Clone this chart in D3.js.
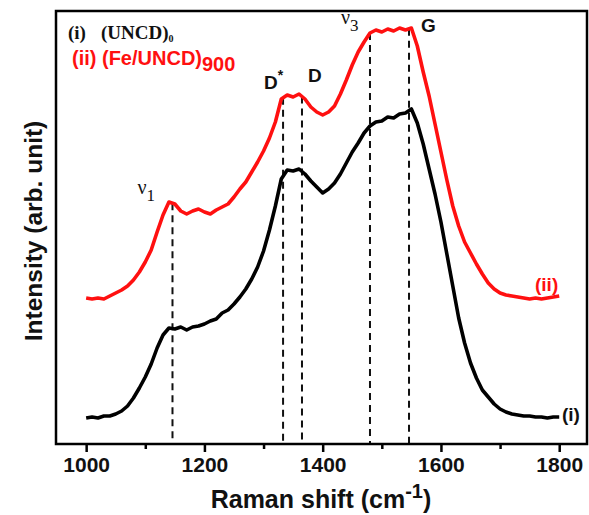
<!DOCTYPE html>
<html>
<head>
<meta charset="utf-8">
<script src="https://cdn.jsdelivr.net/npm/d3@7"></script>
<style>
  html, body { margin: 0; padding: 0; background: #fff; }
  svg { display: block; }
  .sans { font-family: "Liberation Sans", Arial, sans-serif; font-weight: bold; }
  .serif { font-family: "Liberation Serif", "Times New Roman", serif; }
</style>
</head>
<body>
<svg id="chart" width="589" height="515"></svg>
<script>
// Raman shift grid (cm^-1), one reading every 10 cm^-1
const shifts = d3.range(1000, 1801, 10);

// (i) (UNCD)0 spectrum, arbitrary intensity units
const uncd0 = [
  26, 27, 26, 28, 28, 30, 33, 38, 46, 56,
  67, 80, 96, 109, 116, 115, 117, 114, 117, 118,
  120, 123, 125, 131, 134, 140, 147, 155, 165, 177,
  193, 214, 238, 265, 274, 273, 275, 270, 263, 257,
  251, 255, 261, 270, 281, 292, 301, 311, 318, 322,
  323, 327, 326, 330, 331, 335, 321, 300, 275, 250,
  222, 190, 158, 126, 101, 81, 66, 54, 47, 40,
  35, 32, 30, 29, 28, 28, 27, 27, 26, 27, 27
];

// (ii) (Fe/UNCD)900 spectrum, offset upward, arbitrary intensity units
const feUncd900 = [
  146, 145, 146, 145, 148, 151, 154, 158, 164, 172,
  182, 194, 212, 229, 242, 240, 233, 230, 233, 235,
  232, 230, 234, 237, 240, 247, 255, 262, 272, 282,
  293, 306, 322, 345, 349, 347, 350, 345, 337, 332,
  329, 332, 338, 350, 364, 379, 392, 402, 411, 414,
  412, 415, 413, 416, 414, 416, 398, 372, 348, 320,
  292, 264, 238, 218, 202, 191, 180, 170, 161, 155,
  151, 149, 148, 147, 146, 145, 146, 145, 146, 147, 148
];

// Band positions marked with dashed guides (cm^-1)
const bandNames = ["ν1", "D*", "D", "ν3", "G"];
const bandShifts = [1146, 1333, 1365, 1480, 1546];

// Axis ticks
const tickValues = d3.range(1000, 1801, 100);
const labelledTicks = [1000, 1200, 1400, 1600, 1800];

const svg = d3.select("#chart");
const plot = { left: 56, right: 587, top: 11, bottom: 444 };

const x = d3.scaleLinear().domain([949, 1847]).range([plot.left, plot.right]);
const y = d3.scaleLinear().domain([0, 433]).range([plot.bottom, plot.top]);

const line = d3.line()
  .x(d => x(d[0]))
  .y(d => y(d[1]));

// dashed band guides, from the upper spectrum down to the axis
const redAt = w => {
  const i = d3.bisectLeft(shifts, w);
  const i0 = Math.max(0, i - 1), i1 = Math.min(shifts.length - 1, i);
  if (i0 === i1) return feUncd900[i0];
  const t = (w - shifts[i0]) / (shifts[i1] - shifts[i0]);
  return feUncd900[i0] + t * (feUncd900[i1] - feUncd900[i0]);
};
svg.append("g").selectAll("line")
  .data(bandShifts)
  .join("line")
  .attr("x1", d => x(d)).attr("x2", d => x(d))
  .attr("y1", d => y(redAt(d)))
  .attr("y2", y(0))
  .attr("stroke", "#111")
  .attr("stroke-width", 2)
  .attr("stroke-dasharray", "7,5");

// spectra
svg.append("path")
  .datum(shifts.map((s, i) => [s, feUncd900[i]]))
  .attr("d", line)
  .attr("fill", "none")
  .attr("stroke", "#ff1010")
  .attr("stroke-width", 3.6)
  .attr("stroke-linejoin", "round");

svg.append("path")
  .datum(shifts.map((s, i) => [s, uncd0[i]]))
  .attr("d", line)
  .attr("fill", "none")
  .attr("stroke", "#000")
  .attr("stroke-width", 3.6)
  .attr("stroke-linejoin", "round");

// frame
svg.append("rect")
  .attr("x", plot.left).attr("y", plot.top)
  .attr("width", plot.right - plot.left)
  .attr("height", plot.bottom - plot.top)
  .attr("fill", "none")
  .attr("stroke", "#000")
  .attr("stroke-width", 2.5);

// bottom axis
const xAxis = d3.axisBottom(x)
  .tickValues(tickValues)
  .tickFormat(d => labelledTicks.includes(d) ? d : "")
  .tickSizeOuter(0);
const gx = svg.append("g")
  .attr("transform", `translate(0,${plot.bottom})`)
  .call(xAxis);
gx.select(".domain").remove();
gx.selectAll(".tick line")
  .attr("stroke", "#000")
  .attr("stroke-width", 2.5)
  .attr("y2", d => labelledTicks.includes(d) ? 8 : 5);
gx.selectAll(".tick text")
  .attr("class", "sans")
  .attr("y", 13)
  .attr("dy", "0.71em")
  .style("font-size", "21px")
  .attr("fill", "#111");

// axis titles
const xt = svg.append("text")
  .attr("class", "sans")
  .attr("x", 321).attr("y", 508)
  .attr("text-anchor", "middle")
  .style("font-size", "25px")
  .attr("fill", "#111");
xt.append("tspan").text("Raman shift (cm");
xt.append("tspan").attr("dy", -10).style("font-size", "20px").text("-1");
xt.append("tspan").attr("dy", 10).text(")");

svg.append("text")
  .attr("class", "sans")
  .attr("transform", "translate(42,231) rotate(-90)")
  .attr("text-anchor", "middle")
  .style("font-size", "24.5px")
  .attr("fill", "#111")
  .text("Intensity (arb. unit)");

// legend text
const l1 = svg.append("text")
  .attr("class", "serif")
  .attr("x", 68).attr("y", 39)
  .style("font-size", "19px")
  .style("font-weight", "bold")
  .attr("fill", "#111");
l1.append("tspan").text("(i)");
l1.append("tspan").attr("x", 101).text("(UNCD)");
l1.append("tspan").attr("dy", 3).style("font-size", "10px").text("0");

const l2 = svg.append("text")
  .attr("class", "sans")
  .attr("x", 72).attr("y", 65)
  .style("font-size", "20px")
  .attr("fill", "#ff1010");
l2.append("tspan").text("(ii) (Fe/UNCD)");
l2.append("tspan").attr("dy", 6).text("900");

// band labels
const bandLabel = (name, px, py) => {
  const t = svg.append("text").attr("x", px).attr("y", py).attr("fill", "#111");
  if (name.startsWith("ν")) {
    t.attr("class", "serif").style("font-size", "20px");
    t.append("tspan").text("ν");
    t.append("tspan").attr("dy", 7).style("font-size", "17px").text(name.slice(1));
  } else if (name === "D*") {
    t.attr("class", "sans").style("font-size", "19px");
    t.append("tspan").text("D");
    t.append("tspan").attr("dy", -9).style("font-size", "14px").text("*");
  } else {
    t.attr("class", "sans").style("font-size", "19px").text(name);
  }
};
const labelPos = {
  "ν1": [x(bandShifts[0]) - 35, 194],
  "D*": [x(bandShifts[1]) - 19, 89],
  "D": [x(bandShifts[2]) + 6, 82],
  "ν3": [x(bandShifts[3]) - 29, 24],
  "G": [x(bandShifts[4]) + 12, 32]
};
bandNames.forEach(n => bandLabel(n, labelPos[n][0], labelPos[n][1]));

// series tags at the right end of each spectrum
svg.append("text").attr("class", "sans")
  .attr("x", 535).attr("y", 291)
  .style("font-size", "19px").attr("fill", "#ff1010").text("(ii)");
svg.append("text").attr("class", "sans")
  .attr("x", 562).attr("y", 421)
  .style("font-size", "19px").attr("fill", "#111").text("(i)");
</script>
</body>
</html>
